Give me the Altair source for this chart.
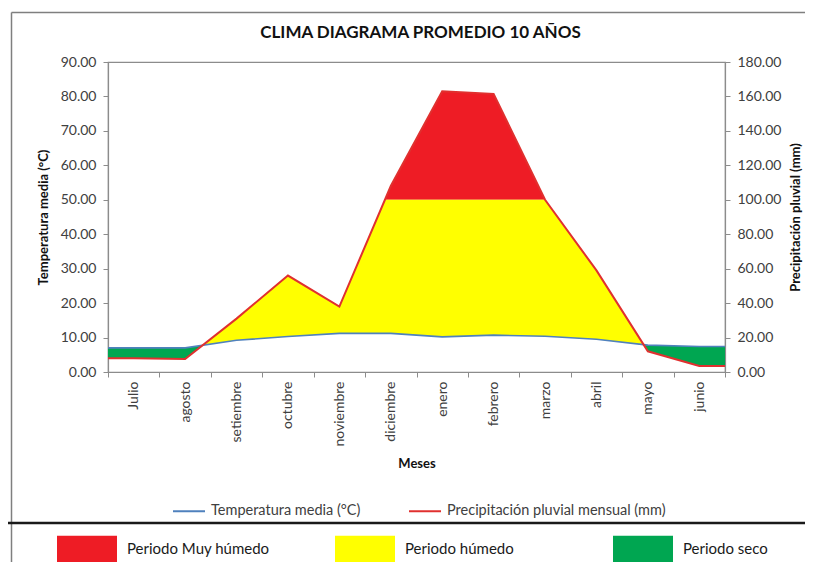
import altair as alt
import pandas as pd

# ---------------- data ----------------
meses = ["Julio", "agosto", "setiembre", "octubre", "noviembre", "diciembre",
         "enero", "febrero", "marzo", "abril", "mayo", "junio"]
temperatura = [7.0, 7.0, 9.2, 10.3, 11.2, 11.2, 10.2, 10.7, 10.4, 9.5, 7.8, 7.4]   # °C
precipitacion = [8.0, 7.5, 31.0, 56.0, 38.0, 108.0, 163.0, 161.5, 100.0, 59.0, 12.0, 3.5]  # mm
umbral_muy_humedo = 100.0  # mm

titulo = "CLIMA DIAGRAMA PROMEDIO 10 AÑOS"
serie_temp = "Temperatura media (°C)"
serie_prec = "Precipitación pluvial mensual (mm)"
periodos = ["Periodo Muy húmedo", "Periodo húmedo", "Periodo seco"]
colores_periodo = ["#EE1C25", "#FFFF00", "#00A651"]
colores_series = ["#4F81BD", "#E0302F"]

# ---------------- derived tables ----------------
n = len(meses)
xs = [-0.5] + list(range(n)) + [n - 0.5]
T = [temperatura[0]] + temperatura + [temperatura[-1]]
P = [precipitacion[0]] + precipitacion + [precipitacion[-1]]
Pm = [p / 2.0 for p in P]          # precipitation on the temperature scale (P = 2T)
lim = umbral_muy_humedo / 2.0


def lerp(a, b, t):
    return a + (b - a) * t


pts = []
for i in range(len(xs) - 1):
    pts.append((xs[i], T[i], Pm[i]))
    cuts = []
    for fa, fb in [(Pm[i] - T[i], Pm[i + 1] - T[i + 1]), (Pm[i] - lim, Pm[i + 1] - lim)]:
        if fa * fb < 0:
            cuts.append(fa / (fa - fb))
    for t in sorted(cuts):
        pts.append((lerp(xs[i], xs[i + 1], t), lerp(T[i], T[i + 1], t), lerp(Pm[i], Pm[i + 1], t)))
pts.append((xs[-1], T[-1], Pm[-1]))

rows = []
for x, t, pm in pts:
    rows.append({"x": x, "y": max(lim, pm), "y2": lim, "periodo": periodos[0]})
    rows.append({"x": x, "y": max(t, min(pm, lim)), "y2": t, "periodo": periodos[1]})
    rows.append({"x": x, "y": t, "y2": min(t, pm), "periodo": periodos[2]})
df_areas = pd.DataFrame(rows)

df_temp = pd.DataFrame({"x": xs, "v": T, "serie": serie_temp})
df_prec = pd.DataFrame({"x": xs, "v": P, "serie": serie_prec})

# ---------------- layout ----------------
W, H = 617, 310
PAD = {"left": 100, "top": 54, "right": 80, "bottom": 190}
band = W / n
FONT = "Lato"
GRAY = "#8C8C8C"

x_scale = alt.Scale(domain=[-0.5, n - 0.5], nice=False, zero=False)
y_left = alt.Scale(domain=[0, 90], nice=False)
y_right = alt.Scale(domain=[0, 180], nice=False)

label_expr = "[" + ",".join("'%s'" % m for m in meses) + "][round(datum.value + 0.5)] || ''"
x_axis = alt.Axis(values=[i - 0.5 for i in range(n + 1)], labelExpr=label_expr,
                  labelAngle=270, labelAlign="right", labelBaseline="middle",
                  labelOffset=band / 2, labelFlush=False, labelOverlap=False, labelBound=False,
                  labelPadding=4, tickSize=5, grid=False,
                  title="Meses", titleX=W / 2, titleY=91, titleBaseline="middle", titleAlign="center")
left_axis = alt.Axis(values=list(range(0, 91, 10)), format=".2f", tickSize=5, labelPadding=7,
                     grid=False, title="Temperatura media (°C)", titleAngle=270,
                     titleX=-65, titleY=H / 2, titleBaseline="middle", titleAlign="center")
right_axis = alt.Axis(orient="right", values=list(range(0, 181, 20)), format=".2f", tickSize=5,
                      labelPadding=7, grid=False, title="Precipitación pluvial (mm)",
                      titleAngle=270, titleX=70, titleY=H / 2, titleBaseline="middle",
                      titleAlign="center")

fill_scale = alt.Scale(domain=periodos, range=colores_periodo)
stroke_scale = alt.Scale(domain=[serie_temp, serie_prec], range=colores_series)

fill_legend = alt.Legend(title=None, orient="none", legendX=-51, legendY=457, direction="horizontal",
                         columns=3, gridAlign="all", columnPadding=65, padding=0,
                         symbolType="M-1,-0.45H1V0.45H-1Z", symbolSize=3600, symbolStrokeWidth=0,
                         symbolOpacity=1, labelFontSize=15, labelColor="#1a1a1a", labelFont=FONT,
                         labelOffset=10, labelLimit=400)
stroke_legend = alt.Legend(title=None, orient="none", legendX=64, legendY=432, direction="horizontal",
                           columnPadding=44, padding=0, symbolType="stroke", symbolSize=1024,
                           symbolStrokeWidth=2, labelFontSize=14.5, labelColor="#404040",
                           labelFont=FONT, labelOffset=5, labelLimit=400)

X = alt.X("x:Q", scale=x_scale, axis=x_axis)

areas = alt.Chart(df_areas).mark_area(opacity=1, strokeWidth=0).encode(
    x=X,
    y=alt.Y("y:Q", scale=y_left, stack=None, axis=left_axis),
    y2="y2:Q",
    fill=alt.Fill("periodo:N", scale=fill_scale, legend=fill_legend),
)
temp_line = alt.Chart(df_temp).mark_line(strokeWidth=1.6).encode(
    x=X,
    y=alt.Y("v:Q", scale=y_left, axis=left_axis),
    stroke=alt.Stroke("serie:N", scale=stroke_scale, legend=stroke_legend),
)
prec_line = alt.Chart(df_prec).mark_line(strokeWidth=2).encode(
    x=X,
    y=alt.Y("v:Q", scale=y_right, axis=right_axis),
    stroke=alt.Stroke("serie:N", scale=stroke_scale, legend=stroke_legend),
)

one = pd.DataFrame({"a": [0]})
right_edge = 797 - PAD["left"]
bottom_edge = 554 - PAD["top"]
frame_left = alt.Chart(one).mark_rule(color="#7F7F7F", strokeWidth=1.5).encode(
    x=alt.value(-96.5), y=alt.value(-49.5), y2=alt.value(bottom_edge))
frame_top = alt.Chart(one).mark_rule(color="#7F7F7F", strokeWidth=1.5).encode(
    x=alt.value(-96.5), x2=alt.value(right_edge), y=alt.value(-49.5))
sep_line = alt.Chart(one).mark_rule(color="#1A1A1A", strokeWidth=2.5).encode(
    x=alt.value(-PAD["left"]), x2=alt.value(right_edge), y=alt.value(461))
title_mark = alt.Chart(one).mark_text(
    text=titulo, font=FONT, fontSize=17, fontWeight="bold", color="#111111",
    align="center", baseline="middle",
).encode(x=alt.value(W / 2 + 4), y=alt.value(-29))

left_group = alt.layer(areas, temp_line)
chart = alt.layer(left_group, prec_line, frame_left, frame_top, sep_line, title_mark).resolve_scale(
    y="independent"
).properties(
    width=W, height=H,
    autosize=alt.AutoSizeParams(type="none"),
    padding=PAD,
    background="white",
).configure_view(stroke=GRAY, strokeWidth=1.2).configure_axis(
    labelFont=FONT, labelFontSize=14, labelColor="#404040",
    titleFont=FONT, titleFontSize=13, titleFontWeight="bold", titleColor="#111111",
    domainColor=GRAY, tickColor=GRAY, domainWidth=1.2,
)

chart.save("out.html", embed_options={"renderer": "svg", "actions": False})
